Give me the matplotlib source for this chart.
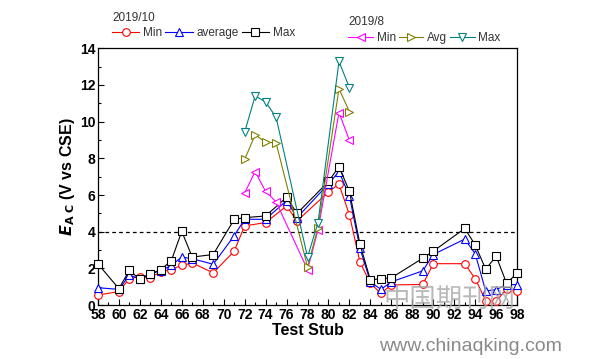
import matplotlib.pyplot as plt
from matplotlib.ticker import MultipleLocator
from matplotlib.lines import Line2D

plt.rcParams['font.family'] = ['Liberation Sans', 'DejaVu Sans']

# 2019/10 survey
x10 = [58, 60, 61, 62, 63, 64, 65, 66, 67, 69, 71, 72, 74, 76, 77, 80, 81, 82,
       83, 84, 85, 86, 89, 90, 93, 94, 95, 96, 97, 98]
min10 = [0.55, 0.74, 1.45, 1.54, 1.5, 1.81, 1.94, 2.17, 2.3, 1.76, 2.94, 4.32,
         4.5, 5.4, 4.59, 6.17, 6.6, 4.91, 2.35, 1.18, 0.65, 1.1, 1.13, 2.26,
         2.26, 1.44, 0.25, 0.2, 0.9, 0.78]
avg10 = [0.95, 0.86, 1.63, 1.45, 1.72, 1.87, 2.17, 2.62, 2.53, 2.23, 3.78, 4.68,
         4.68, 5.7, 4.77, 6.61, 7.28, 5.94, 3.1, 1.27, 0.86, 1.27, 1.87, 2.76,
         3.6, 2.8, 0.77, 0.85, 1.12, 1.12]
max10 = [2.25, 0.9, 1.9, 1.4, 1.69, 1.94, 2.42, 4.02, 2.62, 2.76, 4.67, 4.77,
         4.86, 5.88, 5.0, 6.74, 7.55, 6.2, 3.33, 1.37, 1.45, 1.49, 2.56, 2.94,
         4.18, 3.28, 1.96, 2.67, 1.18, 1.76]

# 2019/8 survey
x8 = [72, 73, 74, 75, 78, 79, 81, 82]
min8 = [6.11, 7.28, 6.2, 5.63, 1.94, 4.1, 10.5, 8.98]
avg8 = [7.94, 9.28, 8.89, 8.84, 2.08, 4.23, 11.8, 10.54]
max8 = [9.43, 11.4, 11.08, 10.24, 2.62, 4.5, 13.28, 11.85]

limit = 4

fig = plt.figure(figsize=(6.12, 3.59), dpi=100)
ax = fig.add_axes([0.160, 0.150, 0.685, 0.7155])

style = dict(lw=0.8, ms=5.5, mfc='white', mew=0.8)
series = [
    (x10, min10, '#ff0000', 'o', 'Min'),
    (x10, avg10, '#0000ff', '^', 'average'),
    (x10, max10, '#000000', 's', 'Max'),
    (x8, min8, '#ff00ff', '<', 'Min'),
    (x8, avg8, '#808000', '>', 'Avg'),
    (x8, max8, '#008080', 'v', 'Max'),
]
for xs, ys, col, mk, lab in series:
    ax.plot(xs, ys, color=col, marker=mk, mec=col, clip_on=False, zorder=3, **style)

ax.axhline(limit, color='black', lw=0.9, ls=(0, (3, 2.5)), zorder=2)

ax.set_xlim(58, 98)
ax.set_ylim(0, 14)
ax.xaxis.set_major_locator(MultipleLocator(2))
ax.xaxis.set_minor_locator(MultipleLocator(1))
ax.yaxis.set_major_locator(MultipleLocator(2))
ax.yaxis.set_minor_locator(MultipleLocator(1))
ax.tick_params(which='both', direction='in', top=False, right=False)
ax.tick_params(which='major', length=4, width=0.8, labelsize=10, pad=2)
ax.tick_params(which='minor', length=2.5, width=0.8)
for lab in ax.get_xticklabels() + ax.get_yticklabels():
    lab.set_fontweight('bold')
for sp in ax.spines.values():
    sp.set_linewidth(0.9)

ax.set_xlabel('Test Stub', fontsize=11.5, fontweight='bold', labelpad=1)
ax.set_ylabel(r'$\mathbfit{E}_{\mathbf{A\ C}}$ (V vs CSE)', fontsize=11.5,
              fontweight='bold', labelpad=2)

def handles(rows):
    return [Line2D([], [], color=c, marker=m, mec=c, **style) for _, _, c, m, _ in rows]

fig.text(0.183, 0.95, '2019/10', fontsize=8.5, color='#333333', va='center')
leg1 = fig.legend(handles(series[:3]), [s[4] for s in series[:3]], ncol=3,
                  loc='center left', bbox_to_anchor=(0.183, 0.908),
                  frameon=False, fontsize=8.5, handlelength=2.3,
                  handletextpad=0.3, columnspacing=0.3, borderpad=0,
                  borderaxespad=0)
for t in leg1.get_texts():
    t.set_color('#333333')

fig.text(0.569, 0.939, '2019/8', fontsize=8.5, color='#333333', va='center')
leg2 = fig.legend(handles(series[3:]), [s[4] for s in series[3:]], ncol=3,
                  loc='center left', bbox_to_anchor=(0.569, 0.894),
                  frameon=False, fontsize=8.5, handlelength=2.1,
                  handletextpad=0.3, columnspacing=0.25, borderpad=0,
                  borderaxespad=0)
for t in leg2.get_texts():
    t.set_color('#333333')

# watermark
fig.text(0.735, 0.165, '中国期刊网', fontsize=19, color='#a8a8a8', alpha=0.8,
         family=['Noto Sans CJK SC', 'DejaVu Sans'], ha='center', va='center')
fig.text(0.62, 0.035, 'www.chinaqking.com', fontsize=14, color='#8a8a8a',
         ha='left', va='center')

fig.savefig('out.png', dpi=100)
